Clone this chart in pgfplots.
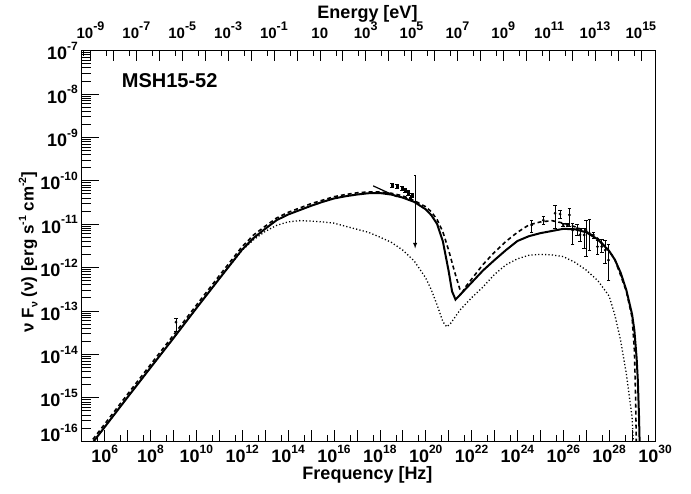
\documentclass[border=0pt]{standalone}
\usepackage{fontspec}
\setmainfont{Liberation Sans}
\usepackage{pgfplots}
\pgfplotsset{compat=1.18}
\newcommand{\E}[1]{10\raisebox{9.5pt}{\fontsize{12}{12}\selectfont #1}}
\newcommand{\Et}[1]{10\raisebox{8pt}{\fontsize{12.5}{12.5}\selectfont #1}}
\newcommand{\tfont}{\fontsize{18}{20}\selectfont\bfseries}
\begin{document}
\begin{tikzpicture}[x=1pt,y=1pt]
\useasboundingbox (0,0) rectangle (691,493);
% main axis (data + bottom ticks)
\begin{axis}[at={(81.7pt,52pt)}, anchor=south west, scale only axis,
  width=573.3pt, height=390.5pt,
  xmode=log, ymode=log, xmin=1e5, xmax=1e30, ymin=1e-16, ymax=1e-7,
  ytick=\empty,
  xtick={1e5,1e6,1e7,1e8,1e9,1e10,1e11,1e12,1e13,1e14,1e15,1e16,1e17,1e18,1e19,1e20,1e21,1e22,1e23,1e24,1e25,1e26,1e27,1e28,1e29,1e30},
  xticklabels={,\E{6},,\E{8},,\E{10},,\E{12},,\E{14},,\E{16},,\E{18},,\E{20},,\E{22},,\E{24},,\E{26},,\E{28},,\E{30}},
  minor xtick={5e5,5e6,5e7,5e8,5e9,5e10,5e11,5e12,5e13,5e14,5e15,5e16,5e17,5e18,5e19,5e20,5e21,5e22,5e23,5e24,5e25,5e26,5e27,5e28,5e29},
  xtick pos=left, tick align=inside,
  major tick length=11pt, minor tick length=6pt,
  xticklabel style={font=\tfont, anchor=base, inner sep=0pt, yshift=-21.5pt},
  axis line style={line width=0.8pt},
  tick style={line width=0.6pt, black},
  error bars/error bar style={line width=0.8pt},
  error bars/error mark options={rotate=90, mark size=1.8pt, line width=0.8pt},
]
% model 1 (solid)
\addplot[black, line width=2pt] coordinates {
(2e5,6.92e-17) (1e6,2.09e-16) (1e7,1.02e-15) (1e8,4.90e-15) (1e9,2.34e-14)
(1e10,1.15e-13) (1e11,5.50e-13) (1e12,2.60e-12) (3.16e12,4.79e-12) (1e13,7.76e-12)
(3.16e13,1.23e-11) (1e14,1.66e-11) (3.16e14,2.09e-11) (1e15,2.63e-11) (3.16e15,3.24e-11)
(1e16,3.89e-11) (3.16e16,4.37e-11) (1e17,4.79e-11) (3.16e17,5.13e-11) (1e18,5.19e-11)
(3.16e18,4.79e-11) (1e19,4.07e-11) (3.16e19,3.24e-11) (1e20,2.19e-11) (1.78e20,1.59e-11)
(3.16e20,1.00e-11) (5.62e20,3.98e-12) (1e21,8.32e-13) (1.41e21,2.82e-13) (2e21,1.82e-13)
(3.16e21,2.34e-13) (5.62e21,3.24e-13) (1e22,4.47e-13) (3.16e22,8.51e-13) (1e23,1.48e-12)
(3.16e23,2.51e-12) (1e24,4.07e-12) (3.16e24,5.25e-12) (1e25,6.17e-12) (3.16e25,6.92e-12)
(1e26,7.76e-12) (3.16e26,7.59e-12) (1e27,6.46e-12) (3.16e27,4.47e-12) (1e28,2.40e-12)
(1.78e28,1.51e-12) (3.16e28,7.59e-13) (5.62e28,3.02e-13) (1e29,8.32e-14) (1.26e29,3.55e-14)
(1.585e29,7.94e-15) (1.78e29,2.51e-15) (2e29,3.98e-16) (2.24e29,3.16e-17)
};
% model 2 (dashed)
\addplot[black, line width=1.6pt, dash pattern=on 4pt off 3pt] coordinates {
(2e5,8.13e-17) (1e6,2.45e-16) (1e7,1.20e-15) (1e8,5.75e-15) (1e9,2.75e-14)
(1e10,1.35e-13) (1e11,6.46e-13) (1e12,3.05e-12) (3.16e12,5.62e-12) (1e13,8.91e-12)
(3.16e13,1.38e-11) (1e14,1.86e-11) (3.16e14,2.34e-11) (1e15,2.95e-11) (3.16e15,3.55e-11)
(1e16,4.27e-11) (3.16e16,4.79e-11) (1e17,5.25e-11) (3.16e17,5.50e-11) (1e18,5.50e-11)
(3.16e18,5.13e-11) (1e19,4.47e-11) (3.16e19,3.47e-11) (1e20,2.51e-11) (1.78e20,1.91e-11)
(3.16e20,1.26e-11) (5.62e20,6.61e-12) (1e21,2.51e-12) (1.78e21,8.32e-13) (3.16e21,3.02e-13)
(3.98e21,2.69e-13) (5.62e21,3.63e-13) (1e22,5.37e-13) (3.16e22,1.17e-12) (1e23,2.24e-12)
(3.16e23,3.98e-12) (1e24,6.46e-12) (3.16e24,9.55e-12) (1e25,1.12e-11) (3.16e25,1.20e-11)
(1e26,1.05e-11) (3.16e26,8.71e-12) (1e27,6.76e-12) (3.16e27,4.68e-12) (1e28,2.40e-12)
(1.78e28,1.51e-12) (3.16e28,6.61e-13) (5.62e28,2.82e-13) (1e29,7.08e-14) (1.26e29,1.26e-14)
(1.41e29,1.26e-15) (1.585e29,3.16e-17)
};
% model component (dotted)
\addplot[black, line width=1.3pt, dash pattern=on 1.2pt off 2.2pt] coordinates {
(2e5,6.92e-17) (1e6,2.09e-16) (1e7,1.02e-15) (1e8,4.90e-15) (1e9,2.34e-14)
(1e10,1.15e-13) (1e11,5.50e-13) (1e12,2.51e-12) (3.16e12,4.37e-12) (1e13,6.76e-12)
(3.16e13,9.33e-12) (1e14,1.12e-11) (3.16e14,1.20e-11) (1e15,1.17e-11) (3.16e15,1.12e-11)
(1e16,1.05e-11) (3.16e16,8.91e-12) (1e17,7.59e-12) (3.16e17,6.46e-12) (1e18,5.01e-12)
(3.16e18,3.80e-12) (1e19,2.51e-12) (3.16e19,1.41e-12) (1e20,5.75e-13) (1.78e20,3.02e-13)
(3.16e20,1.35e-13) (5.62e20,5.62e-14) (8.32e20,4.27e-14) (1.26e21,5.25e-14) (3.16e21,1.05e-13)
(1e22,2.00e-13) (3.16e22,3.55e-13) (1e23,6.92e-13) (3.16e23,1.15e-12) (1e24,1.58e-12)
(3.16e24,1.91e-12) (1e25,2.00e-12) (3.16e25,1.95e-12) (1e26,1.78e-12) (3.16e26,1.32e-12)
(1e27,8.71e-13) (3.16e27,5.01e-13) (1e28,2.19e-13) (1.78e28,7.94e-14) (3.16e28,2.09e-14)
(5.62e28,3.55e-15) (1e29,3.55e-16) (1.26e29,3.16e-17)
};
% X-ray power law
\addplot[black, line width=1.2pt] coordinates {(5.13e17,7.59e-11) (5.5e18,4.27e-11)};
% radio point
\addplot[black, only marks, mark=*, mark size=1.2pt,
  error bars/.cd, y dir=both, y explicit] coordinates {
(1.29e9,5.5e-14) += (0,1.26e-14) -= (0,2.2e-14)
};
% X-ray points
\addplot[black, only marks, mark=square*, mark size=1.2pt,
  error bars/.cd, y dir=both, y explicit] coordinates {
(3.39e18,7.94e-11) +- (0,8e-12)
(5.62e18,7.59e-11) +- (0,8e-12)
(9.33e18,6.76e-11) +- (0,7e-12)
(1.26e19,6.03e-11) +- (0,7e-12)
(1.70e19,5.25e-11) +- (0,6e-12)
(2.09e19,3.98e-11) +- (0,5e-12)
(2.51e19,4.68e-11) +- (0,5e-12)
};
% upper limit
\addplot[black, line width=0.9pt, -latex] coordinates {(3.47e19,1.35e-10) (3.47e19,2.75e-12)};
\addplot[black, line width=0.9pt] coordinates {(3.2e19,1.35e-10) (3.75e19,1.35e-10)};
% gamma-ray points
\addplot[black, only marks, mark=*, mark size=1.2pt,
  error bars/.cd, y dir=both, y explicit] coordinates {
(4.17e24,9.55e-12) += (0,2.45e-12) -= (0,3.09e-12)
(1.35e25,1.23e-11) += (0,2.8e-12) -= (0,2.3e-12)
(4.37e25,1.78e-11) += (0,8.5e-12) -= (0,9.86e-12)
(7.24e25,1.70e-11) += (0,3.9e-12) -= (0,3.5e-12)
(1.86e26,1.62e-11) += (0,6.2e-12) -= (0,7.5e-12)
(1.00e26,9.55e-12) += (0,0.95e-12) -= (0,0.84e-12)
(1.51e26,9.55e-12) += (0,0.95e-12) -= (0,0.84e-12)
(2.57e26,7.24e-12) += (0,3.26e-12) -= (0,3.93e-12)
(4.07e26,7.94e-12) += (0,2.06e-12) -= (0,2.32e-12)
(5.37e26,5.62e-12) += (0,2.32e-12) -= (0,1.73e-12)
(8.13e26,5.62e-12) += (0,2.32e-12) -= (0,2.87e-12)
(9.77e26,7.24e-12) += (0,5.06e-12) -= (0,5.46e-12)
(1.38e27,6.17e-12) += (0,6.7e-12) -= (0,3.66e-12)
(2.04e27,5.62e-12) += (0,0.69e-12) -= (0,0.83e-12)
(3.09e27,3.02e-12) += (0,1.25e-12) -= (0,1.07e-12)
(4.79e27,3.02e-12) += (0,1.35e-12) -= (0,0.78e-12)
(6.76e27,2.51e-12) += (0,1.76e-12) -= (0,1.28e-12)
(9.33e27,1.48e-12) += (0,1.83e-12) -= (0,0.97e-12)
};
\end{axis}
% y axis ticks (left)
\begin{axis}[at={(81.7pt,52pt)}, anchor=south west, scale only axis,
  width=573.3pt, height=390.5pt,
  ymode=log, ymin=1e-16, ymax=1e-7, xmin=0, xmax=1,
  xtick=\empty,
  ytick={1e-16,1e-15,1e-14,1e-13,1e-12,1e-11,1e-10,1e-9,1e-8,1e-7},
  yticklabels={\raisebox{8.6pt}{\E{-16}},\E{-15},\E{-14},\E{-13},\E{-12},\E{-11},\E{-10},\E{-9},\E{-8},\E{-7}},
  minor ytick={2e-16,3e-16,4e-16,5e-16,6e-16,7e-16,8e-16,9e-16,
    2e-15,3e-15,4e-15,5e-15,6e-15,7e-15,8e-15,9e-15,
    2e-14,3e-14,4e-14,5e-14,6e-14,7e-14,8e-14,9e-14,
    2e-13,3e-13,4e-13,5e-13,6e-13,7e-13,8e-13,9e-13,
    2e-12,3e-12,4e-12,5e-12,6e-12,7e-12,8e-12,9e-12,
    2e-11,3e-11,4e-11,5e-11,6e-11,7e-11,8e-11,9e-11,
    2e-10,3e-10,4e-10,5e-10,6e-10,7e-10,8e-10,9e-10,
    2e-9,3e-9,4e-9,5e-9,6e-9,7e-9,8e-9,9e-9,
    2e-8,3e-8,4e-8,5e-8,6e-8,7e-8,8e-8,9e-8},
  ytick pos=left, tick align=inside,
  major tick length=17pt, minor tick length=9pt,
  yticklabel style={font=\tfont, anchor=base east, inner sep=0pt, xshift=-3.7pt, yshift=-9.3pt},
  axis line style={draw=none},
  tick style={line width=0.6pt, black},
]
\end{axis}
% top energy axis
\begin{axis}[at={(81.7pt,52pt)}, anchor=south west, scale only axis,
  width=573.3pt, height=390.5pt,
  xmode=log, xmin=4.135e-10, xmax=4.135e15, ymin=0, ymax=1,
  ytick=\empty,
  xtick={1e-9,1e-8,1e-7,1e-6,1e-5,1e-4,1e-3,1e-2,1e-1,1,1e1,1e2,1e3,1e4,1e5,1e6,1e7,1e8,1e9,1e10,1e11,1e12,1e13,1e14,1e15},
  xticklabels={\Et{-9},,\Et{-7},,\Et{-5},,\Et{-3},,\Et{-1},,10,,\Et{3},,\Et{5},,\Et{7},,\Et{9},,\Et{11},,\Et{13},,\Et{15}},
  minor xtick={5e-10,5e-9,5e-8,5e-7,5e-6,5e-5,5e-4,5e-3,5e-2,5e-1,5,5e1,5e2,5e3,5e4,5e5,5e6,5e7,5e8,5e9,5e10,5e11,5e12,5e13,5e14},
  xtick pos=right, tick align=inside,
  major tick length=11pt, minor tick length=6pt,
  xticklabel style={font=\fontsize{15}{17}\selectfont\bfseries, anchor=base, inner sep=0pt, yshift=12pt},
  axis line style={draw=none},
  tick style={line width=0.6pt, black},
]
\end{axis}
\node[font=\tfont, anchor=base, inner sep=0pt] at (367.5,14) {Frequency [Hz]};
\node[font=\tfont, anchor=base, inner sep=0pt] at (367.5,474.7) {Energy [eV]};
\node[font=\fontsize{20}{24}\selectfont\bfseries, anchor=base west, inner sep=0pt] at (121.7,405.7) {MSH15-52};
\node[font=\fontsize{17}{20}\selectfont\bfseries, rotate=90, anchor=base, inner sep=0pt] at (33.5,241) {ν F\raisebox{-4pt}{\fontsize{10.5}{10.5}\selectfont ν} (ν) [erg s\raisebox{7.5pt}{\fontsize{10.5}{10.5}\selectfont -1} cm\raisebox{7.5pt}{\fontsize{10.5}{10.5}\selectfont -2}]};
\end{tikzpicture}
\end{document}
